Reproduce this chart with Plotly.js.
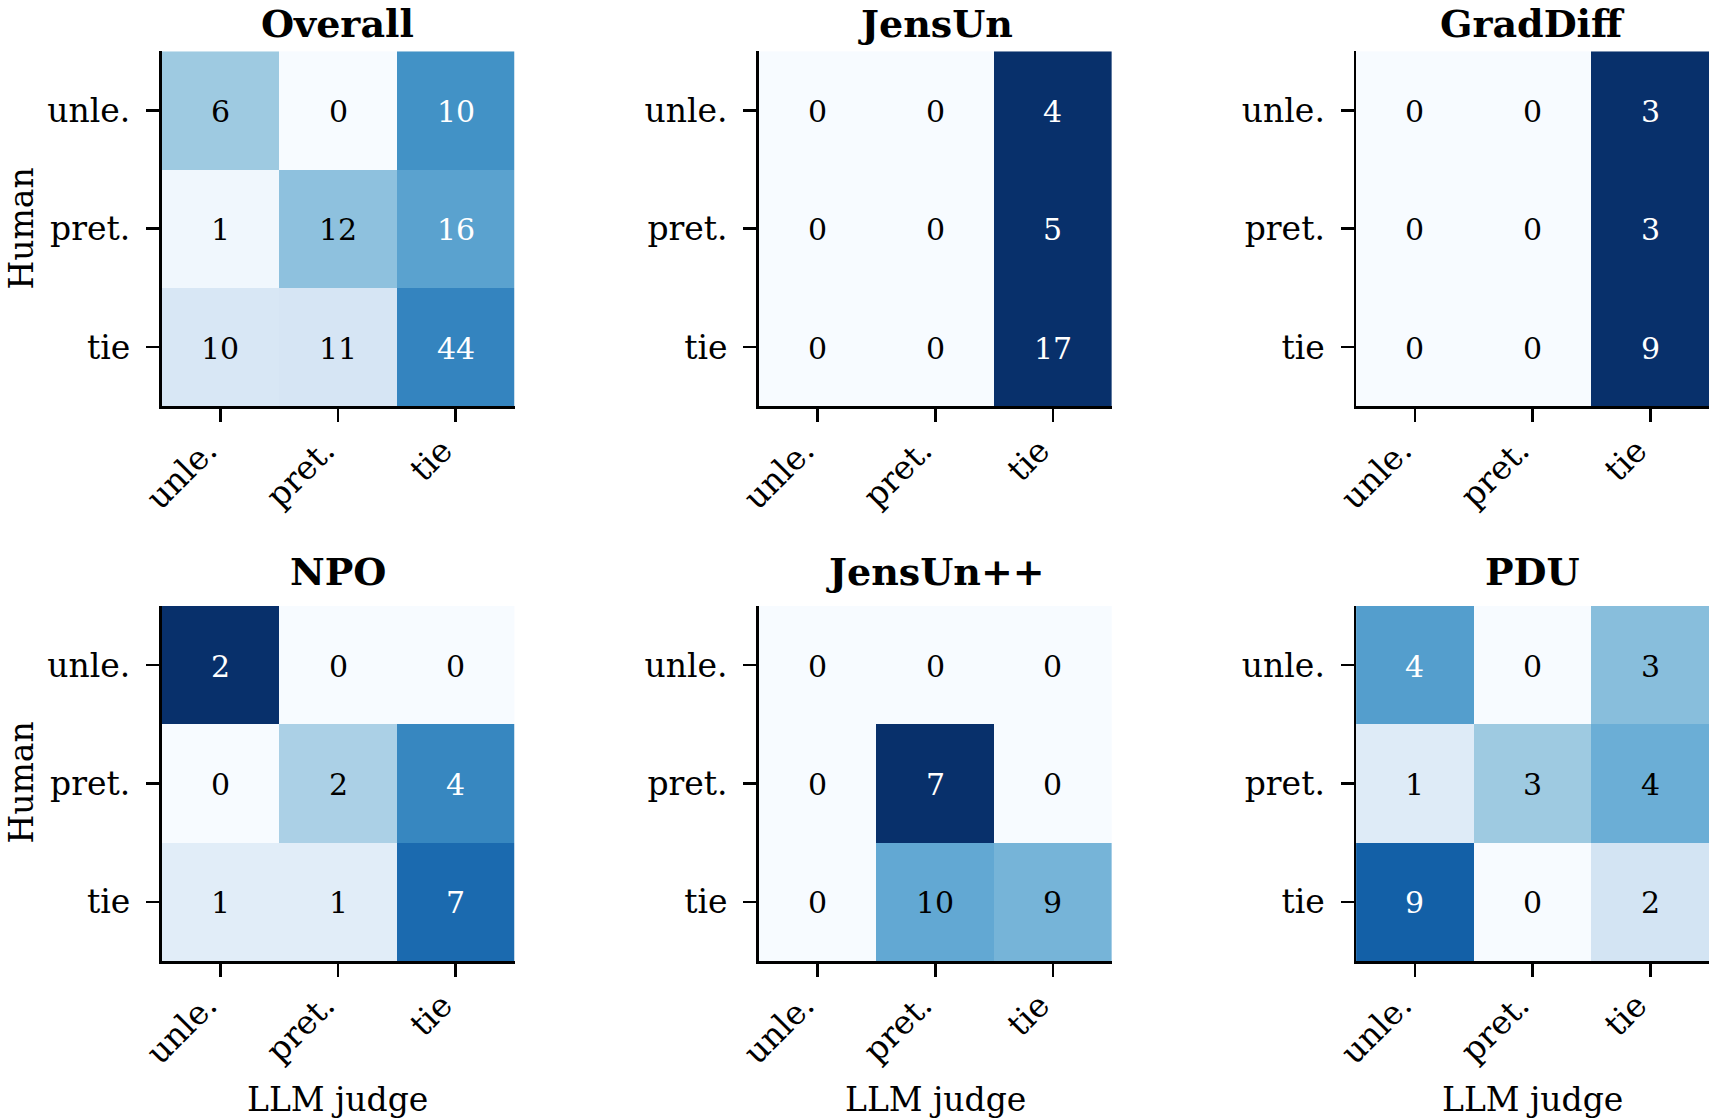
<!DOCTYPE html>
<html>
<head>
<meta charset="utf-8">
<script src="https://cdn.plot.ly/plotly-3.0.1.min.js"></script>
<style>html,body{margin:0;padding:0;background:#fff;}#chart{width:1712px;height:1119px;}</style>
</head>
<body>
<div id="chart"></div>
<script>
// ---- data ----
const xLabels = ['unle.', 'pret.', 'tie'];   // LLM judge
const yLabels = ['unle.', 'pret.', 'tie'];   // Human
const panelTitles = ['Overall', 'JensUn', 'GradDiff', 'NPO', 'JensUn++', 'PDU'];
const overall  = [[6, 0, 10], [1, 12, 16], [10, 11, 44]];
const jensun   = [[0, 0, 4], [0, 0, 5], [0, 0, 17]];
const graddiff = [[0, 0, 3], [0, 0, 3], [0, 0, 9]];
const npo      = [[2, 0, 0], [0, 2, 4], [1, 1, 7]];
const jensunpp = [[0, 0, 0], [0, 7, 0], [0, 10, 9]];
const pdu      = [[4, 0, 3], [1, 3, 4], [9, 0, 2]];
const xTitle = 'LLM judge';
const yTitle = 'Human';

// ---- style ----
const panels = [overall, jensun, graddiff, npo, jensunpp, pdu];
const blues = [[0, '#f7fbff'], [0.125, '#deebf7'], [0.25, '#c6dbef'], [0.375, '#9ecae1'],
  [0.5, '#6baed6'], [0.625, '#4292c6'], [0.75, '#2171b5'], [0.875, '#08519c'], [1, '#08306b']];
const FONT = 'DejaVu Serif, serif';
const W = 1712, H = 1119;
const xDom = [[161.5, 514.5], [758.8, 1111.8], [1356.1, 1709.1]].map(d => [d[0] / W, d[1] / W]);
const yDomPx = [[51.3, 406.2], [606, 961]];
const yDom = yDomPx.map(d => [1 - d[1] / H, 1 - d[0] / H]);

const traces = [];
const layout = {
  width: W, height: H,
  margin: {l: 0, r: 0, t: 0, b: 0},
  paper_bgcolor: '#ffffff', plot_bgcolor: '#ffffff',
  showlegend: false,
  font: {family: FONT, color: '#000', size: 33},
  annotations: []
};

const idx = [0, 1, 2];
panels.forEach((m, p) => {
  const row = Math.floor(p / 3), col = p % 3;
  const k = p === 0 ? '' : String(p + 1);
  const z = m.map(r => {
    const s = r.reduce((a, b) => a + b, 0);
    return r.map(v => s > 0 ? v / s : 0);
  });
  traces.push({
    type: 'heatmap', x: idx, y: idx, z: z,
    colorscale: blues, zmin: 0, zmax: 1, showscale: false,
    xaxis: 'x' + k, yaxis: 'y' + k, hoverinfo: 'skip'
  });
  m.forEach((r, i) => r.forEach((v, j) => {
    layout.annotations.push({
      text: String(v), xref: 'x' + k, yref: 'y' + k, x: j, y: i,
      xanchor: 'center', yanchor: 'middle', yshift: -1, showarrow: false,
      font: {family: FONT, size: 30, color: z[i][j] > 0.54 ? '#ffffff' : '#000000'}
    });
  }));
  const common = {
    showgrid: false, zeroline: false, showline: true, linecolor: '#000', linewidth: 2.6,
    ticks: 'outside', ticklen: 13, tickwidth: 2.6, tickcolor: '#000',
    tickfont: {family: FONT, size: 33, color: '#000'}, fixedrange: true
  };
  layout['xaxis' + k] = Object.assign({}, common, {
    domain: xDom[col], anchor: 'y' + k, range: [-0.5, 2.5],
    tickvals: idx, ticktext: xLabels, tickangle: -45,
    ticklabelstandoff: -4, ticklabelshift: -13
  });
  layout['yaxis' + k] = Object.assign({}, common, {
    domain: yDom[row], anchor: 'x' + k, range: [2.5, -0.5],
    tickvals: idx, ticktext: yLabels, ticklabelstandoff: 9
  });
  const cx = (xDom[col][0] + xDom[col][1]) / 2;
  layout.annotations.push({
    text: '<b>' + panelTitles[p] + '</b>', xref: 'paper', yref: 'paper',
    x: cx, y: row === 0 ? 1 : 1 - 571 / H, xanchor: 'center', yanchor: row === 0 ? 'top' : 'middle',
    borderpad: 0,
    showarrow: false, font: {family: FONT, size: 38, color: '#000'}
  });
  if (col === 0) {
    layout.annotations.push({
      text: yTitle, xref: 'paper', yref: 'paper', textangle: -90,
      x: 0, y: 1 - (row === 0 ? 229 : 783) / H, xanchor: 'left', yanchor: 'middle',
      borderpad: 0,
      showarrow: false, font: {family: FONT, size: 33, color: '#000'}
    });
  }
  if (row === 1) {
    layout.annotations.push({
      text: xTitle, xref: 'paper', yref: 'paper',
      x: cx, y: 1 - 1099 / H, xanchor: 'center', yanchor: 'middle',
      showarrow: false, font: {family: FONT, size: 33, color: '#000'}
    });
  }
});

Plotly.newPlot('chart', traces, layout, {displayModeBar: false, staticPlot: true});
</script>
</body>
</html>
